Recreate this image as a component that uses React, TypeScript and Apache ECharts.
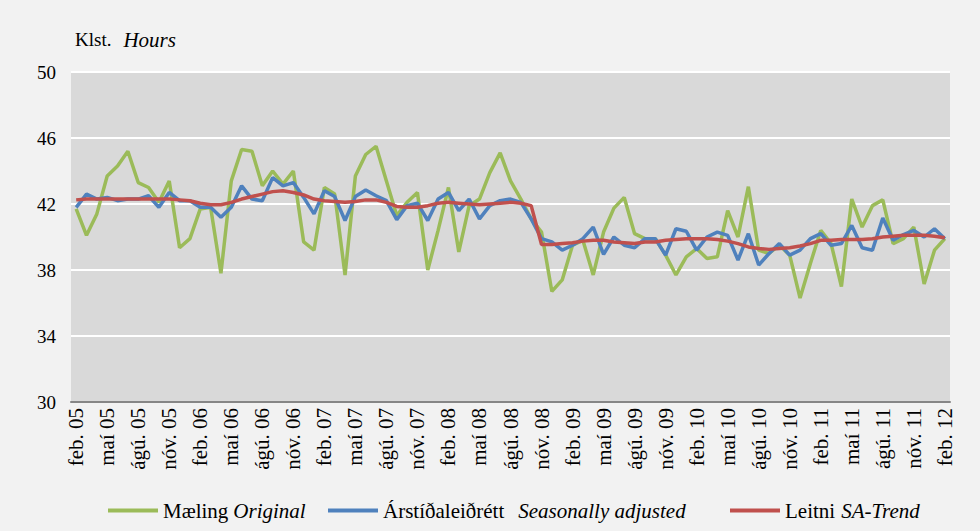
import React, { useEffect, useRef } from "react";
import * as echarts from "echarts";

const monthNames = ["jan.", "feb.", "mar.", "apr.", "maí", "jún.", "júl.", "ágú.", "sep.", "okt.", "nóv.", "des."];

function buildCategories(): string[] {
  const out: string[] = [];
  let m = 1;
  let y = 5;
  for (let i = 0; i < 85; i++) {
    out.push(`${monthNames[m]} ${String(y).padStart(2, "0")}`);
    m++;
    if (m === 12) {
      m = 0;
      y++;
    }
  }
  return out;
}

const categories = buildCategories();

const original = [
  41.7, 40.1, 41.4, 43.7, 44.3, 45.2, 43.3, 43.0, 42.1, 43.4, 39.35, 39.9,
  41.7, 41.8, 37.8, 43.4, 45.3, 45.2, 43.1, 44.0, 43.2, 44.0, 39.7, 39.2,
  43.0, 42.6, 37.7, 43.7, 45.0, 45.5, 43.4, 41.3, 42.1, 42.7, 38.0, 40.4,
  43.0, 39.1, 41.9, 42.3, 43.9, 45.1, 43.4, 42.3, 41.1, 40.3, 36.7, 37.4,
  39.5, 39.8, 37.7, 40.3, 41.75, 42.4, 40.2, 39.9, 39.9, 38.9, 37.7, 38.8,
  39.3, 38.7, 38.8, 41.6, 40.0, 43.05, 39.2, 39.0, 39.5, 38.9, 36.3, 38.4,
  40.4, 39.6, 37.0, 42.3, 40.6, 41.9, 42.25, 39.6, 39.9, 40.6, 37.15, 39.2,
  39.9,
];

const seasonallyAdjusted = [
  41.8, 42.6, 42.3, 42.4, 42.2, 42.3, 42.3, 42.5, 41.8, 42.7, 42.2, 42.2,
  41.8, 41.8, 41.2, 41.8, 43.1, 42.3, 42.2, 43.6, 43.1, 43.3, 42.4, 41.4,
  42.8, 42.45, 41.0, 42.45, 42.85, 42.5, 42.2, 41.05, 41.9, 42.05, 41.0, 42.3,
  42.7, 41.6, 42.3, 41.1, 41.9, 42.2, 42.3, 42.1, 41.1, 39.9, 39.7, 39.2,
  39.5, 39.9, 40.6, 38.95, 40.0, 39.5, 39.35, 39.9, 39.9, 38.9, 40.5, 40.35,
  39.2, 40.0, 40.3, 40.1, 38.6, 40.2, 38.3, 39.0, 39.6, 38.9, 39.2, 39.9,
  40.2, 39.5, 39.6, 40.7, 39.35, 39.2, 41.15, 39.8, 40.15, 40.4, 40.0, 40.5,
  39.9,
];

const trend = [
  42.25, 42.3, 42.3, 42.3, 42.3, 42.3, 42.3, 42.3, 42.3, 42.3, 42.25, 42.2,
  42.05, 41.95, 41.95, 42.1, 42.3, 42.45, 42.6, 42.75, 42.8, 42.7, 42.55, 42.3,
  42.2, 42.15, 42.1, 42.15, 42.25, 42.25, 42.1, 41.85, 41.8, 41.8, 41.9, 42.05,
  42.1, 42.05, 42.0, 41.95, 42.0, 42.05, 42.1, 42.05, 41.9, 39.55, 39.55, 39.6,
  39.65, 39.75, 39.8, 39.8, 39.7, 39.65, 39.6, 39.7, 39.7, 39.8, 39.85, 39.9,
  39.9, 39.9, 39.85, 39.75, 39.6, 39.4, 39.3, 39.25, 39.3, 39.35, 39.45, 39.6,
  39.8, 39.8, 39.85, 39.85, 39.85, 39.9, 40.0, 40.05, 40.1, 40.1, 40.1, 40.05,
  39.95,
];

const yMin = 30;
const yMax = 50;
const yInterval = 4;

const seriesNames = ["Mæling", "Árstíðaleiðrétt", "Leitni"];
const seriesNamesEn = ["Original", "Seasonally adjusted", "SA-Trend"];
const colors = ["#9bbb59", "#4f81bd", "#c0504d"];
const legendLefts = [103, 323, 725];

const serif = "Liberation Serif";

export default function App() {
  const ref = useRef<HTMLDivElement>(null);

  useEffect(() => {
    document.body.style.margin = "0";
    if (!ref.current) return;
    const chart = echarts.init(ref.current, null, { renderer: "svg" });
    const values = [original, seasonallyAdjusted, trend];
    chart.setOption({
      animation: false,
      backgroundColor: "#f2f2f2",
      textStyle: { fontFamily: serif },
      grid: {
        left: 71,
        right: 30,
        top: 72,
        bottom: 129,
        show: true,
        backgroundColor: "#d9d9d9",
        borderWidth: 0,
      },
      graphic: [
        {
          type: "text",
          left: 75,
          top: 29,
          style: {
            text: "{a|Klst.}{s|}{b|Hours}",
            fontFamily: serif,
            rich: {
              a: { fontFamily: serif, fontSize: 19, fill: "#000" },
              s: { width: 12 },
              b: { fontFamily: serif, fontSize: 21, fontStyle: "italic", fill: "#000" },
            },
          },
        },
      ],
      legend: seriesNames.map((name, i) => ({
        bottom: 5,
        left: legendLefts[i],
        itemWidth: 50,
        itemHeight: 4,
        icon: "rect",
        data: [name],
        formatter: (n: string) => {
          const k = seriesNames.indexOf(n);
          return `{a|${n}}{g${k}|}{b|${seriesNamesEn[k]}}`;
        },
        textStyle: {
          fontFamily: serif,
          fontSize: 21,
          color: "#000",
          rich: {
            a: { fontFamily: serif, fontSize: 21, color: "#000" },
            b: { fontFamily: serif, fontSize: 21, fontStyle: "italic", color: "#000" },
            g0: { width: 5 },
            g1: { width: 14 },
            g2: { width: 6 },
          },
        },
      })),
      xAxis: {
        type: "category",
        data: categories,
        boundaryGap: true,
        axisLine: { lineStyle: { color: "#868686", width: 2 } },
        axisTick: { show: false },
        axisLabel: {
          interval: 2,
          rotate: 90,
          fontFamily: serif,
          fontSize: 21,
          color: "#000",
          margin: 6,
        },
      },
      yAxis: {
        type: "value",
        min: yMin,
        max: yMax,
        interval: yInterval,
        axisLine: { show: false },
        axisTick: { show: false },
        axisLabel: { fontFamily: serif, fontSize: 19, color: "#000", margin: 15 },
        splitLine: { lineStyle: { color: "#ffffff", width: 2 } },
      },
      series: values.map((v, i) => ({
        name: seriesNames[i],
        type: "line",
        data: v,
        symbol: "none",
        color: colors[i],
        z: 2 + i,
        lineStyle: { width: 3.5, color: colors[i] },
      })),
    });
    return () => chart.dispose();
  }, []);

  return (
    <div
      ref={ref}
      style={{ position: "absolute", left: 0, top: 0, width: 980, height: 531 }}
    />
  );
}
